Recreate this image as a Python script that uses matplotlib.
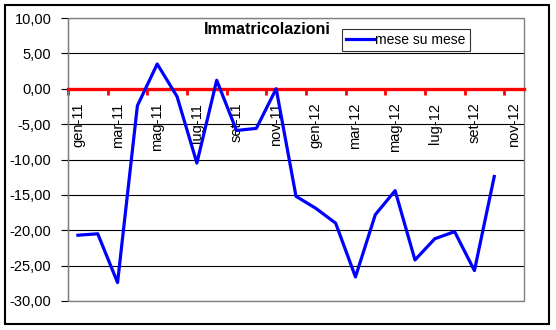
import numpy as np
import matplotlib.pyplot as plt
from matplotlib.patches import Rectangle
from matplotlib.ticker import FuncFormatter

plt.rcParams['font.family'] = ['Liberation Sans', 'DejaVu Sans']

# categorie mensili (gen-11 .. nov-12), dati fino a ott-12
mesi = ['gen', 'feb', 'mar', 'apr', 'mag', 'giu', 'lug', 'ago', 'set', 'ott', 'nov', 'dic']
categorie = [f"{m}-11" for m in mesi] + [f"{m}-12" for m in mesi[:11]]
mese_su_mese = [-20.7, -20.5, -27.4, -2.4, 3.5, -1.1, -10.5, 1.2, -5.9, -5.6, 0.0,
                -15.2, -16.9, -19.0, -26.6, -17.8, -14.4, -24.2, -21.2, -20.2, -25.7, -12.4]
y_ticks = [10, 5, 0, -5, -10, -15, -20, -25, -30]

fig = plt.figure(figsize=(5.56, 3.30), dpi=100)
ax = fig.add_axes([68 / 556, 1 - 301 / 330, 456 / 556, 283 / 330])

# cornice esterna
fig.patches.append(Rectangle((5 / 556, 1 - 324 / 330), 544 / 556, 319 / 330,
                             transform=fig.transFigure, fill=False,
                             edgecolor='black', linewidth=1.5))

x = np.arange(len(mese_su_mese))
ax.plot(x, mese_su_mese, color='#0000ff', linewidth=2.3, label='mese su mese', zorder=4)

ax.set_xlim(-0.5, len(categorie) - 0.5)
ax.set_ylim(-30, 10)
ax.set_yticks(y_ticks)
ax.yaxis.set_major_formatter(FuncFormatter(lambda v, p: f"{v:.2f}".replace('.', ',')))
ax.tick_params(axis='y', direction='out', length=5, width=0.8, pad=7, labelsize=10.5, color='black')
ax.grid(axis='y', color='black', linewidth=0.8)

# asse x sullo zero in rosso
ax.spines['bottom'].set_position(('data', 0))
ax.spines['bottom'].set_color('#ff0000')
ax.spines['bottom'].set_linewidth(2.4)
ax.spines['bottom'].set_zorder(3)
ax.spines['top'].set_visible(False)
ax.spines['right'].set_visible(False)
ax.spines['left'].set_color('black')
ax.spines['left'].set_linewidth(0.8)

pos = np.arange(0, len(categorie), 2)
ax.set_xticks(pos)
ax.set_xticklabels([categorie[i] for i in pos], rotation=90, va='top', ha='center')
ax.set_xticks(pos - 0.5, minor=True)
ax.tick_params(axis='x', which='major', length=0, pad=10, labelsize=10.5)
ax.tick_params(axis='x', which='minor', direction='out', length=4.5, width=2, color='#ff0000')

# bordo grigio dell'area del grafico
ax.add_patch(Rectangle((0, 0), 1, 1, transform=ax.transAxes, fill=False,
                       edgecolor='#808080', linewidth=1, zorder=2.6, clip_on=False))

ax.text(0.436, 0.943, 'Immatricolazioni', transform=ax.transAxes, ha='center',
        va='baseline', fontsize=11.5, fontweight='bold')

leg = ax.legend(loc='upper left', bbox_to_anchor=(0.601, 0.961), borderaxespad=0,
                fontsize=10, frameon=True, fancybox=False, handlelength=2.0,
                handletextpad=0.1, borderpad=0.3)
leg.get_frame().set_edgecolor('black')
leg.get_frame().set_linewidth(0.8)

fig.savefig('out.png', dpi=100)
